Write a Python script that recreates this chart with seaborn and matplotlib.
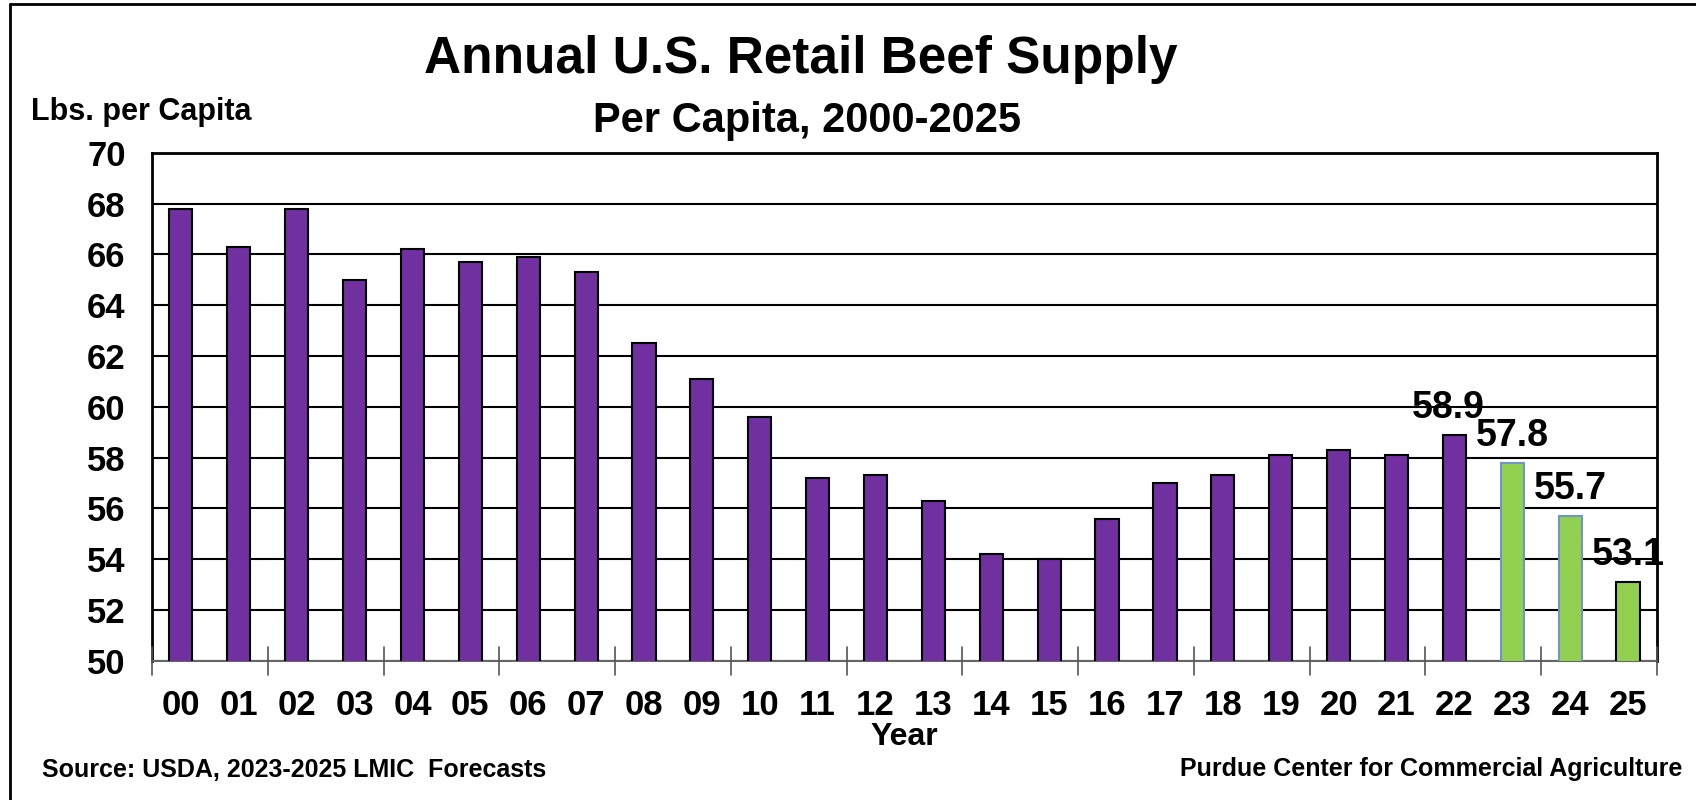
import pandas as pd
import seaborn as sns
import matplotlib.pyplot as plt
from matplotlib.lines import Line2D

# --- data ---
years = ['00', '01', '02', '03', '04', '05', '06', '07', '08', '09', '10', '11', '12',
         '13', '14', '15', '16', '17', '18', '19', '20', '21', '22', '23', '24', '25']
lbs = [67.8, 66.3, 67.8, 65.0, 66.2, 65.7, 65.9, 65.3, 62.5, 61.1, 59.6, 57.2, 57.3,
       56.3, 54.2, 54.0, 55.6, 57.0, 57.3, 58.1, 58.3, 58.1, 58.9, 57.8, 55.7, 53.1]
forecast = ['23', '24', '25']
labelled = ['22', '23', '24', '25']

purple = '#7030A0'
green = '#92D050'

df = pd.DataFrame({'Year': years, 'Lbs': lbs})
df['kind'] = ['fc' if y in forecast else 'hist' for y in years]

sns.set_style('white')
plt.rcParams['font.family'] = ['Liberation Sans', 'DejaVu Sans']
plt.rcParams['font.weight'] = 'bold'
plt.rcParams['text.color'] = 'black'
plt.rcParams['axes.labelcolor'] = 'black'
plt.rcParams['xtick.color'] = 'black'
plt.rcParams['ytick.color'] = 'black'

fig = plt.figure(figsize=(16.96, 8), dpi=100)
ax = fig.add_axes([0.0896, 0.174, 0.8874, 0.635])

sns.barplot(data=df, x='Year', y='Lbs', hue='kind', palette={'hist': purple, 'fc': green},
            dodge=False, width=0.4, saturation=1, legend=False, ax=ax, zorder=3)

# edges: black for history, blue-ish for 23/24
for bar in ax.patches:
    xc = bar.get_x() + bar.get_width() / 2
    i = int(round(xc))
    if i < 0 or i >= len(years):
        continue
    if years[i] in ('23', '24'):
        bar.set_edgecolor('#6F95C9')
    else:
        bar.set_edgecolor('black')
    bar.set_linewidth(1.5)

# value labels for last bars
for y, v in zip(years, lbs):
    if y in labelled:
        i = years.index(y)
        dx = -0.1 if y == '22' else 0.0
        ax.text(i + dx, v + 0.35, f'{v:.1f}', ha='center', va='bottom',
                fontsize=27, fontweight='bold', color='black', zorder=5)

ax.set_ylim(50, 70)
ax.set_xlim(-0.5, len(years) - 0.5)
ax.set_yticks(range(50, 71, 2))
ax.yaxis.grid(True, color='black', linewidth=1.5, zorder=0)
ax.set_axisbelow(True)

ax.tick_params(axis='y', labelsize=25, length=7, width=1.2, color='black', labelcolor='black',
               direction='out', pad=12)
ax.tick_params(axis='x', labelsize=25, length=0, pad=20, labelcolor='black')
for lab in ax.get_xticklabels() + ax.get_yticklabels():
    lab.set_fontweight('bold')

# category separator ticks every two years
for k in range(0, len(years) + 1, 2):
    ax.add_line(Line2D([k - 0.5, k - 0.5], [-0.028, 0.028], transform=ax.get_xaxis_transform(),
                       color='#555555', linewidth=1.2, clip_on=False, zorder=4))

for s in ['left', 'top', 'right']:
    ax.spines[s].set_color('black')
    ax.spines[s].set_linewidth(2)
ax.spines['bottom'].set_color('#666666')
ax.spines['bottom'].set_linewidth(1.5)

ax.set_xlabel('Year', fontsize=23, fontweight='bold', color='black', labelpad=0)
ax.set_ylabel('')

fig.text(0.472, 0.926, 'Annual U.S. Retail Beef Supply', ha='center', va='center',
         fontsize=37, fontweight='bold')
fig.text(0.476, 0.849, 'Per Capita, 2000-2025', ha='center', va='center',
         fontsize=30, fontweight='bold')
fig.text(0.018, 0.86, 'Lbs. per Capita', ha='left', va='center', fontsize=22, fontweight='bold')
fig.text(0.025, 0.037, 'Source: USDA, 2023-2025 LMIC  Forecasts', ha='left', va='center',
         fontsize=18, fontweight='bold')
fig.text(0.992, 0.039, 'Purdue Center for Commercial Agriculture', ha='right', va='center',
         fontsize=18, fontweight='bold')

# outer frame (left and top edges visible)
fig.add_artist(Line2D([0.006, 0.006], [0.0, 0.995], transform=fig.transFigure, color='black', linewidth=2))
fig.add_artist(Line2D([0.006, 1.0], [0.995, 0.995], transform=fig.transFigure, color='black', linewidth=2))

fig.savefig('out.png', dpi=100)
